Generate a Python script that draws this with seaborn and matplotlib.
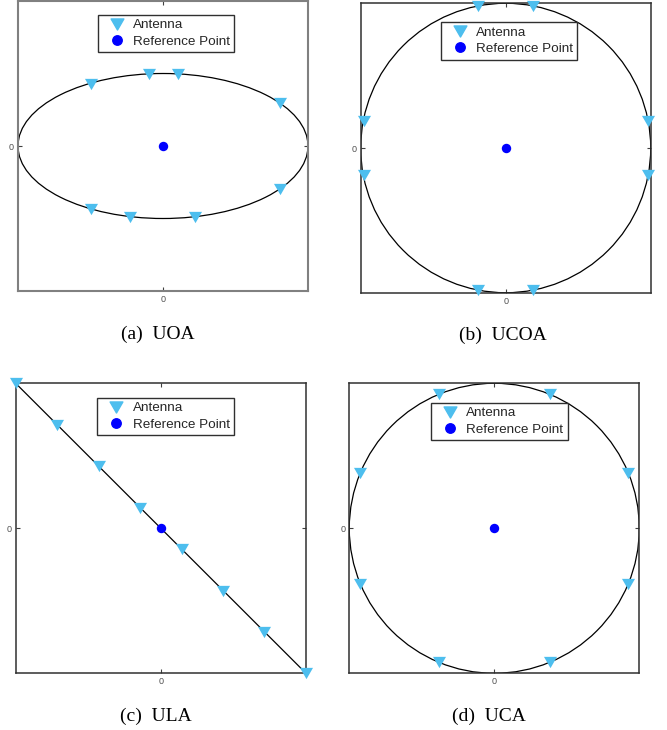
import numpy as np
import pandas as pd
import seaborn as sns
import matplotlib
matplotlib.use("Agg")
import matplotlib.pyplot as plt
from matplotlib.path import Path
from matplotlib.patches import Ellipse
from matplotlib.lines import Line2D

# ---------------- data ----------------
# (a) UOA : antennas on an ellipse (a=1, b=0.5)
uoa_x = [-0.50, -0.10, 0.10, 0.81, 0.81, 0.22, -0.23, -0.50]
uoa_y = [0.43, 0.497, 0.497, 0.295, -0.295, -0.488, -0.487, -0.433]
# (b) UCOA : antennas on a circle (r=1)
ucoa_x = [-0.19, 0.19, -0.98, 0.98, -0.98, 0.98, -0.19, 0.19]
ucoa_y = [0.98, 0.98, 0.19, 0.19, -0.19, -0.19, -0.98, -0.98]
# (c) ULA : antennas on a line
ula_x = [-1.0, -0.714, -0.429, -0.143, 0.143, 0.429, 0.714, 1.0]
ula_y = [1.0, 0.714, 0.429, 0.143, -0.143, -0.429, -0.714, -1.0]
# (d) UCA : antennas on a circle (r=1)
uca_x = [-0.383, 0.383, -0.924, 0.924, -0.924, 0.924, -0.383, 0.383]
uca_y = [0.924, 0.924, 0.383, 0.383, -0.383, -0.383, -0.924, -0.924]
ref_x, ref_y = [0.0], [0.0]

captions = ["(a)  UOA", "(b)  UCOA", "(c)  ULA", "(d)  UCA"]
legend_labels = ["Antenna", "Reference Point"]

ANT_COLOR = "#4DBEEE"
REF_COLOR = "#0000FF"

sns.set_theme(style="white")
plt.rcParams['font.family'] = ['Liberation Sans', 'DejaVu Sans']

tri = Path([(-1, 0.866), (1, 0.866), (0, -0.866), (-1, 0.866)],
           [Path.MOVETO, Path.LINETO, Path.LINETO, Path.CLOSEPOLY])

W, H = 667, 730
fig = plt.figure(figsize=(W / 100, H / 100), dpi=100)

# axes rectangles in pixels (left, top, width, height)
rects = [(18, 1, 290, 290), (360.7, 3.3, 290, 289.4),
         (15.7, 383.3, 290.3, 290), (349.3, 383.3, 290, 290)]
legend_tl = [(97.7, 14.7), (440.7, 22.0), (97.3, 397.7), (431.0, 402.7)]
caption_xy = [(158, 334), (503, 335), (155.5, 716), (489, 716)]
spine_cols = ["#808080", "#303030", "#303030", "#303030"]
spine_lws = [1.5, 1.1, 1.1, 1.1]

ants = [(uoa_x, uoa_y), (ucoa_x, ucoa_y), (ula_x, ula_y), (uca_x, uca_y)]

for i, (rx, ry, rw, rh) in enumerate(rects):
    ax = fig.add_axes([rx / W, 1 - (ry + rh) / H, rw / W, rh / H])
    ax.set_xlim(-1, 1)
    ax.set_ylim(-1, 1)
    xs, ys = ants[i]
    if i == 0:
        ax.add_patch(Ellipse((0, 0), 2, 1, fill=False, ec="black", lw=0.9, zorder=1))
    elif i in (1, 3):
        ax.add_patch(Ellipse((0, 0), 2, 2, fill=False, ec="black", lw=0.9, zorder=1))
    else:
        df_line = pd.DataFrame({"x": xs, "y": ys})
        sns.lineplot(data=df_line, x="x", y="y", ax=ax, color="black", lw=0.9,
                     sort=False, zorder=1)
    df_a = pd.DataFrame({"x": xs, "y": ys})
    sns.scatterplot(data=df_a, x="x", y="y", ax=ax, marker=tri, s=88,
                    color=ANT_COLOR, edgecolor=ANT_COLOR, linewidth=0,
                    clip_on=False, zorder=3)
    df_r = pd.DataFrame({"x": ref_x, "y": ref_y})
    sns.scatterplot(data=df_r, x="x", y="y", ax=ax, marker="o", s=46,
                    color=REF_COLOR, edgecolor=REF_COLOR, linewidth=0,
                    clip_on=False, zorder=4)
    ax.set_xlabel("")
    ax.set_ylabel("")
    ax.set_xticks([0])
    ax.set_yticks([0])
    ax.set_xticklabels(["0"])
    ax.set_yticklabels(["0"])
    ax.tick_params(direction="in", length=3, width=0.8, colors="#404040",
                   labelsize=6.5, top=True, right=True, bottom=True, left=True,
                   pad=3, labelcolor="#505050")
    for s in ax.spines.values():
        s.set_color(spine_cols[i])
        s.set_linewidth(spine_lws[i])
        s.set_visible(True)

    handles = [Line2D([], [], ls="", marker=tri, ms=9.2, color=ANT_COLOR, mec=ANT_COLOR),
               Line2D([], [], ls="", marker="o", ms=6.8, color=REF_COLOR, mec=REF_COLOR)]
    lx, ly = legend_tl[i]
    bx = (lx - rx) / rw
    by = 1 - (ly - ry) / rh
    leg = ax.legend(handles, legend_labels, loc="upper left", bbox_to_anchor=(bx, by),
                    borderaxespad=0, frameon=True, fancybox=False, framealpha=1,
                    edgecolor="#303030", fontsize=9.7, handlelength=2.2,
                    handletextpad=0.1, borderpad=0.32, labelspacing=0.3)
    leg.get_frame().set_linewidth(1.0)

    cx, cy = caption_xy[i]
    fig.text(cx / W, 1 - cy / H, captions[i], ha="center", va="center",
             fontsize=14, family=["Liberation Serif", "DejaVu Serif"], color="black")

fig.savefig("out.png", dpi=100)
